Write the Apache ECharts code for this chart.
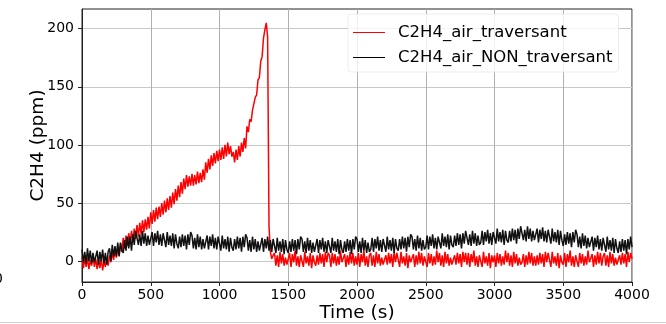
<!DOCTYPE html>
<html>
<head>
<meta charset="utf-8">
<script src="https://cdn.jsdelivr.net/npm/echarts@6/dist/echarts.min.js"></script>
<style>
html,body{margin:0;padding:0;background:#fff;}
#c{width:666px;height:324px;}
</style>
</head>
<body>
<div id="c"></div>
<script>
// Sampling step of the series (s)
const timeStep = 10;
const xTicks = [0, 500, 1000, 1500, 2000, 2500, 3000, 3500, 4000];
const yTicks = [0, 50, 100, 150, 200];
const seriesNames = ['C2H4_air_traversant', 'C2H4_air_NON_traversant'];

// C2H4_air_traversant, one value every 10 s from 0 to 4000 s
const redValues = [
  4,-6,2,-5,3,-7,1,-4,5,-5,
  2,-7,1,-6,3,-8,0,-5,3,-4,
  5,-1,7,1,10,3,12,5,15,8,
  20,11,22,13,24,15,26,17,28,19,
  31,21,33,23,35,25,36,27,38,28,
  42,32,44,34,46,36,47,38,50,40,
  52,42,54,44,56,46,59,49,62,52,
  65,55,68,58,71,62,74,64,73,65,
  75,65,74,66,77,67,76,68,79,70,
  85,76,88,79,91,82,93,84,95,86,
  96,87,98,88,100,90,102,92,99,90,
  94,85,96,87,99,90,102,94,106,97,
  116,111,122,120,130,129,141,143,156,158,
  172,176,192,199,205,193,30,8,2,5,
  7,-4,5,-5,8,-2,6,-4,3,-3,
  -3,7,-5,6,-1,9,-4,4,-5,5,
  6,-5,8,-2,4,-4,7,-6,5,-1,
  -4,5,-3,7,-2,6,-5,8,-1,7,
  5,-5,7,-2,6,-4,4,-3,9,-1,
  -1,6,-5,5,-3,8,-2,7,-4,4,
  -3,7,-5,6,-1,9,-4,4,-5,5,
  7,-4,5,-5,8,-2,6,-4,3,-3,
  -4,5,-3,7,-2,6,-5,8,-1,7,
  6,-5,8,-2,4,-4,7,-6,5,-1,
  -1,6,-5,5,-3,8,-2,7,-4,4,
  5,-5,7,-2,6,-4,4,-3,9,-1,
  7,-4,5,-5,8,-2,6,-4,3,-3,
  -4,5,-3,7,-2,6,-5,8,-1,7,
  -3,7,-5,6,-1,9,-4,4,-5,5,
  6,-5,8,-2,4,-4,7,-6,5,-1,
  5,-5,7,-2,6,-4,4,-3,9,-1,
  7,-4,5,-5,8,-2,6,-4,3,-3,
  -1,6,-5,5,-3,8,-2,7,-4,4,
  -4,5,-3,7,-2,6,-5,8,-1,7,
  6,-5,8,-2,4,-4,7,-6,5,-1,
  -3,7,-5,6,-1,9,-4,4,-5,5,
  5,-5,7,-2,6,-4,4,-3,9,-1,
  -1,6,-5,5,-3,8,-2,7,-4,4,
  7,-4,5,-5,8,-2,6,-4,3,-3,
  -4,5,-3,7,-2,6,-5,8,-1,7,
  2
];

// C2H4_air_NON_traversant, one value every 10 s from 0 to 4000 s
const blackValues = [
  10,-1,8,-2,11,0,9,-2,7,-1,
  -1,9,-3,8,0,10,-2,7,-3,8,
  11,0,14,4,13,4,16,4,16,9,
  7,18,9,21,11,21,9,23,14,26,
  25,14,23,13,26,15,24,13,22,14,
  15,25,13,24,16,26,14,23,13,24,
  23,12,25,14,22,13,24,11,23,15,
  11,21,12,23,13,22,10,23,14,25,
  22,11,20,10,23,12,21,10,19,11,
  12,22,10,21,13,23,11,20,10,21,
  20,9,22,11,19,10,21,8,20,12,
  9,19,10,21,11,20,8,21,12,23,
  20,9,18,8,21,10,19,8,17,9,
  10,20,8,19,11,21,9,18,8,19,
  18,7,20,9,17,8,19,6,18,10,
  7,17,8,19,9,18,6,19,10,21,
  19,8,17,7,20,9,18,7,16,8,
  9,19,7,18,10,20,8,17,7,18,
  18,7,20,9,17,8,19,6,18,10,
  7,17,8,19,9,18,6,19,10,21,
  19,8,17,7,20,9,18,7,16,8,
  10,20,8,19,11,21,9,18,8,19,
  19,8,21,10,18,9,20,7,19,11,
  9,19,10,21,11,20,8,21,12,23,
  21,10,19,9,22,11,20,9,18,10,
  12,22,10,21,13,23,11,20,10,21,
  22,11,24,13,21,12,23,10,22,14,
  12,22,13,24,14,23,11,24,15,26,
  25,14,23,13,26,15,24,13,22,14,
  16,26,14,25,17,27,15,24,14,25,
  26,15,28,17,25,16,27,14,26,18,
  16,26,17,28,18,27,15,28,19,30,
  29,18,27,17,30,19,28,17,26,18,
  18,28,16,27,19,29,17,26,16,27,
  26,15,28,17,25,16,27,14,26,18,
  13,23,14,25,15,24,12,25,16,27,
  23,12,21,11,24,13,22,11,20,12,
  11,21,9,20,12,22,10,19,9,20,
  19,8,21,10,18,9,20,7,19,11,
  7,17,8,19,9,18,6,19,10,21,
  12
];

const toPairs = vals => vals.map((v, i) => [i * timeStep, v]);
const FONT = 'DejaVu Sans';
const plain = v => String(v);

const chart = echarts.init(document.getElementById('c'), null, {renderer: 'canvas'});
chart.setOption({
  animation: false,
  backgroundColor: '#fff',
  grid: {left: 82, right: 34, top: 9, bottom: 42, outerBoundsMode: 'none', containLabel: false,
         show: true, borderColor: '#222', borderWidth: 1, backgroundColor: 'transparent'},
  legend: {
    data: seriesNames,
    orient: 'vertical',
    left: 348, top: 14,
    padding: [10, 6, 6, 5],
    itemWidth: 32, itemHeight: 1, itemGap: 8,
    icon: 'rect',
    backgroundColor: 'rgba(255,255,255,0.8)',
    borderColor: 'rgba(225,225,225,0.6)',
    borderWidth: 1, borderRadius: 3,
    textStyle: {fontFamily: FONT, fontSize: 16.5, color: '#000', padding: [0, 0, 0, 8]}
  },
  xAxis: {
    type: 'value', min: 0, max: 4000, interval: 500,
    name: 'Time (s)', nameLocation: 'middle', nameGap: 22, nameMoveOverlap: false,
    nameTextStyle: {fontFamily: FONT, fontSize: 18.5, color: '#000'},
    axisLine: {onZero: false, lineStyle: {color: '#222', width: 1}},
    axisTick: {inside: false, length: 4, lineStyle: {color: '#222'}},
    axisLabel: {fontFamily: FONT, fontSize: 14, color: '#000', margin: 6, formatter: plain},
    splitLine: {show: true, lineStyle: {color: '#b0b0b0', width: 1}}
  },
  yAxis: {
    type: 'value', min: -18, max: 217,
    name: 'C2H4 (ppm)', nameLocation: 'middle', nameGap: 34, nameMoveOverlap: false,
    nameTextStyle: {fontFamily: FONT, fontSize: 18.5, color: '#000'},
    axisLine: {show: true, lineStyle: {color: '#222', width: 1}},
    axisTick: {show: true, inside: false, length: 4, lineStyle: {color: '#222'}, customValues: yTicks},
    axisLabel: {fontFamily: FONT, fontSize: 14, color: '#000', margin: 8, customValues: yTicks, formatter: plain},
    splitLine: {show: true, lineStyle: {color: '#c8c8c8', width: 1}}
  },
  series: [
    {name: seriesNames[0], type: 'line', data: toPairs(redValues), showSymbol: false,
     color: '#ff0000', lineStyle: {color: '#ff0000', width: 1.5}},
    {name: seriesNames[1], type: 'line', data: toPairs(blackValues), showSymbol: false,
     color: '#000000', lineStyle: {color: '#111111', width: 1.5}}
  ],
  graphic: [
    {type: 'text', left: -6, top: 272, style: {text: '0', fontFamily: FONT, fontSize: 14, fill: '#000'}},
    {type: 'rect', shape: {x: 0, y: 322, width: 666, height: 1}, style: {fill: '#d0d0d0'}}
  ]
});
</script>
</body>
</html>
